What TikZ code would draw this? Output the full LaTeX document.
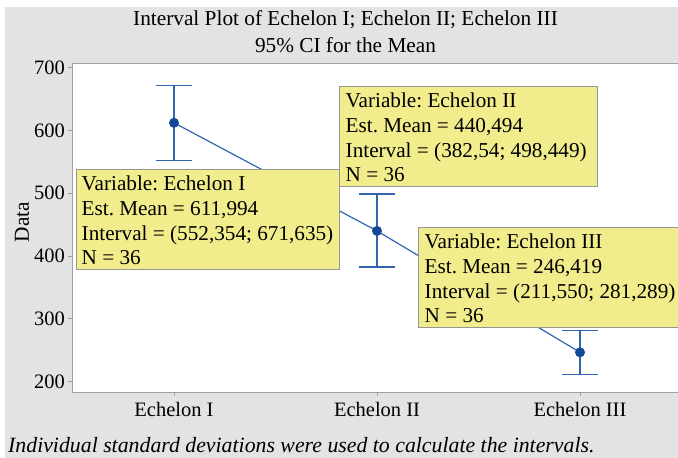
\documentclass[tikz,border=0pt]{standalone}
\usepackage{fontspec}
\setmainfont{Liberation Serif}
\definecolor{bg}{RGB}{227,227,227}
\definecolor{framec}{RGB}{160,160,160}
\definecolor{boxfill}{RGB}{241,237,140}
\definecolor{boxline}{RGB}{150,150,150}
\definecolor{barc}{RGB}{50,100,175}
\definecolor{dotc}{RGB}{18,72,152}
\begin{document}
\frenchspacing
\begin{tikzpicture}[x=1pt,y=-1pt,
  txt/.style={font=\fontsize{21.3}{25}\selectfont, inner sep=0pt},
  ticklab/.style={font=\fontsize{20.5}{24}\selectfont, inner sep=0pt},
  infobox/.style={draw=boxline, line width=0.9pt, fill=boxfill, anchor=north west,
    inner sep=0pt, minimum height=100pt},
  boxtxt/.style={font=\fontsize{21.2}{25}\selectfont, inner sep=0pt, anchor=base west},
  errbar/.style={barc, line width=1.4pt},
  link/.style={barc, line width=1.2pt},
  meandot/.style={circle, fill=dotc, inner sep=0pt, minimum size=10pt}]
\useasboundingbox (0,0) rectangle (678,458);
\fill[white] (0,0) rectangle (678,458);
\fill[bg] (5,7) rectangle (678,458);
\fill[white] (72,63) rectangle (678,392);
\draw[framec, line width=1pt] (678,63) -- (72,63) -- (72,392) -- (678,392);
% title
\node[txt] (t1) at (345.5,20) {Interval Plot of Echelon I; Echelon II; Echelon III};
\node[txt] (t2) at (345.5,45) {95\% CI for the Mean};
% y axis
\foreach \v in {200,300,400,500,600,700}{
  \pgfmathsetmacro\yy{381.5-(\v-200)*0.628}
  \draw[framec, line width=0.8pt] (68,\yy) -- (72,\yy);
  \node[ticklab, anchor=east] (y\v) at (65,\yy) {\v};
}
\node[txt, rotate=90] (ylab) at (22,222) {Data};
% x axis
\foreach \x/\n/\l in {174/a/Echelon I,377/b/Echelon II,580/c/Echelon III}{
  \draw[framec, line width=0.8pt] (\x,392) -- (\x,396);
  \node[ticklab] (x\n) at (\x,409) {\l};
}
% data
\coordinate (m1) at (174,122.8);
\coordinate (m2) at (377,230.9);
\coordinate (m3) at (580,352.3);
\draw[link] (m1) -- (m2) -- (m3);
\foreach \x/\lo/\hi/\n in {174/160.2/85.3/1,377/266.9/194.1/2,580/374.2/330.6/3}{
  \coordinate (lo\n) at (\x,\lo);
  \coordinate (hi\n) at (\x,\hi);
  \draw[errbar] (lo\n) -- (hi\n);
  \draw[errbar] ([xshift=-18pt]lo\n) -- ([xshift=18pt]lo\n);
  \draw[errbar] ([xshift=-18pt]hi\n) -- ([xshift=18pt]hi\n);
}
\node[meandot] (d1) at (m1) {};
\node[meandot] (d2) at (m2) {};
\node[meandot] (d3) at (m3) {};
% info box 1
\node[infobox, minimum width=263pt] (b1) at (75.5,169) {};
\node[boxtxt] (b1a) at (81.5,190) {Variable: Echelon I};
\node[boxtxt] (b1b) at (81.5,215) {Est. Mean = 611,994};
\node[boxtxt] (b1c) at (81.5,240) {Interval = (552,354; 671,635)};
\node[boxtxt] (b1d) at (81.5,264.5) {N = 36};
% info box 2
\node[infobox, minimum width=258pt] (b2) at (339,86) {};
\node[boxtxt] (b2a) at (345.5,107) {Variable: Echelon II};
\node[boxtxt] (b2b) at (345.5,132) {Est. Mean = 440,494};
\node[boxtxt] (b2c) at (345.5,157) {Interval = (382,54; 498,449)};
\node[boxtxt] (b2d) at (345.5,181.5) {N = 36};
% info box 3
\begin{scope}
\clip (0,0) rectangle (678,458);
\node[infobox, minimum width=290pt] (b3) at (418,227) {};
\node[boxtxt] (b3a) at (424.5,248) {Variable: Echelon III};
\node[boxtxt] (b3b) at (424.5,273) {Est. Mean = 246,419};
\node[boxtxt] (b3c) at (424.5,298) {Interval = (211,550; 281,289)};
\node[boxtxt] (b3d) at (424.5,322.5) {N = 36};
\end{scope}
% footnote
\node[txt, anchor=base west, font=\fontsize{21.8}{25}\selectfont\itshape] (foot) at (8,452)
  {Individual standard deviations were used to calculate the intervals.};
\end{tikzpicture}
\end{document}
